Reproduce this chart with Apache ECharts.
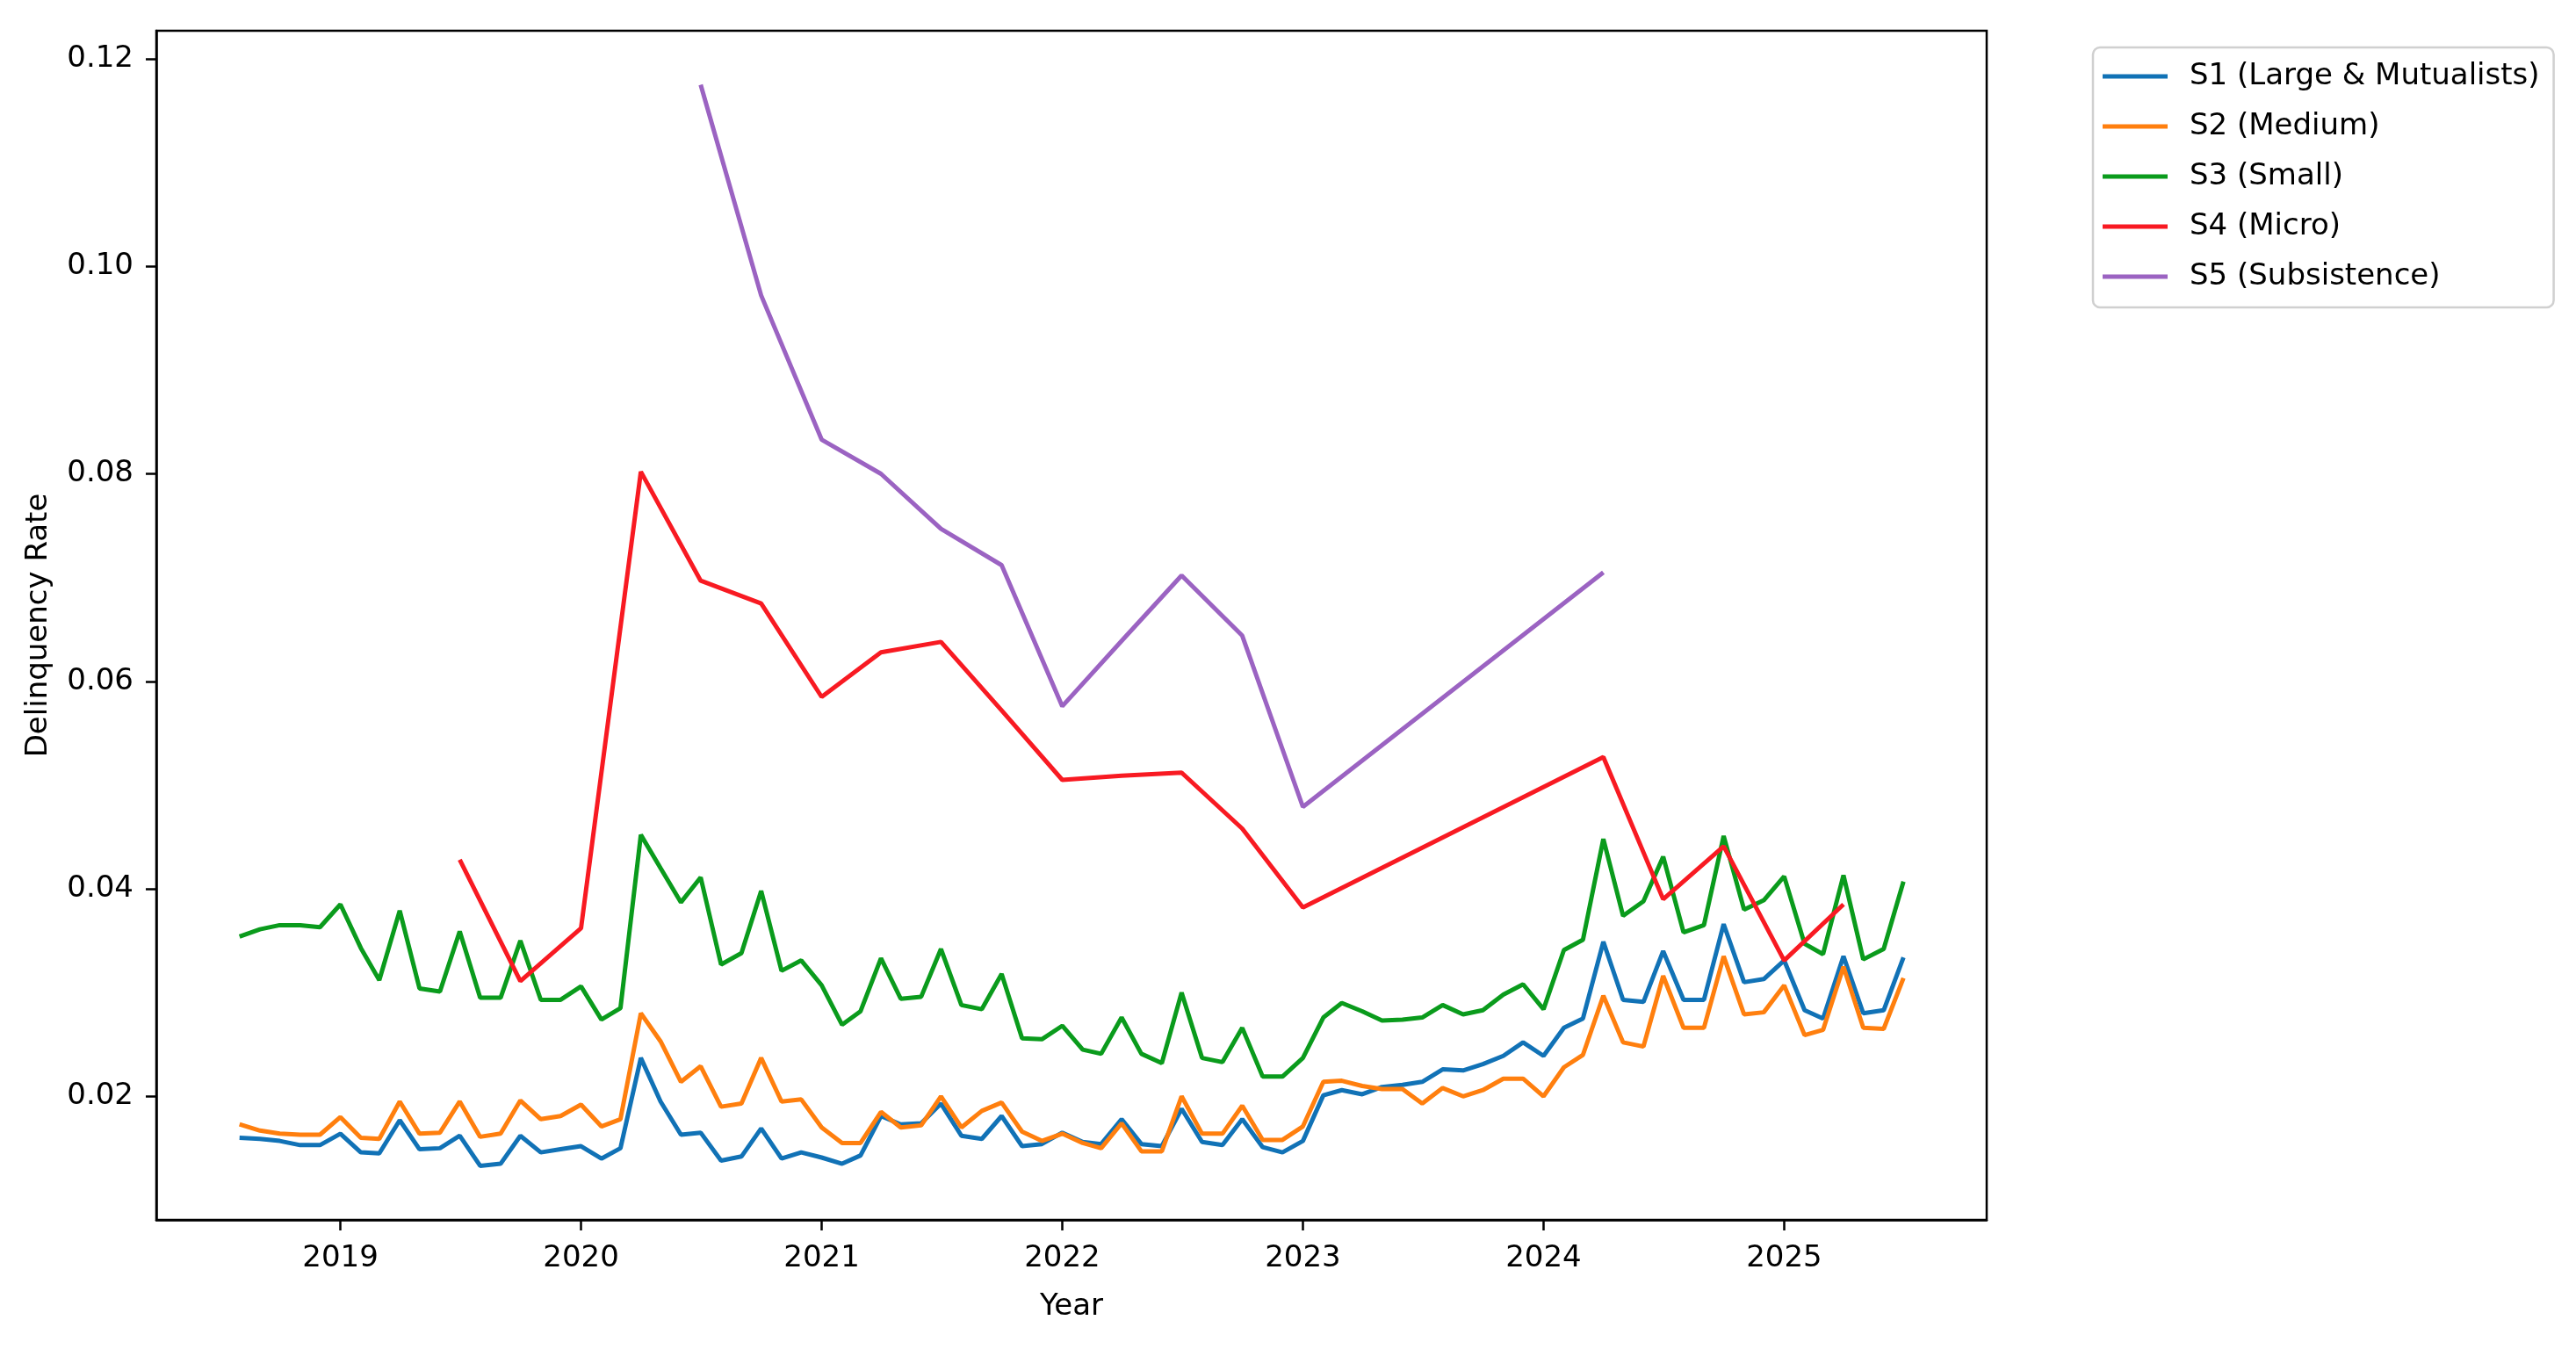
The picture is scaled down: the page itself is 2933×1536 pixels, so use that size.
<!DOCTYPE html>
<html>
<head>
<meta charset="utf-8">
<script src="https://cdn.jsdelivr.net/npm/echarts@6/dist/echarts.min.js"></script>
<style>
  html, body { margin: 0; padding: 0; background: #fff; }
  #chart { width: 2933px; height: 1536px; }
</style>
</head>
<body>
<div id="chart"></div>
<script>
// monthly observations, S1..S3
var months = [
  '2018-08','2018-09','2018-10','2018-11','2018-12',
  '2019-01','2019-02','2019-03','2019-04','2019-05','2019-06','2019-07','2019-08','2019-09','2019-10','2019-11','2019-12',
  '2020-01','2020-02','2020-03','2020-04','2020-05','2020-06','2020-07','2020-08','2020-09','2020-10','2020-11','2020-12',
  '2021-01','2021-02','2021-03','2021-04','2021-05','2021-06','2021-07','2021-08','2021-09','2021-10','2021-11','2021-12',
  '2022-01','2022-02','2022-03','2022-04','2022-05','2022-06','2022-07','2022-08','2022-09','2022-10','2022-11','2022-12',
  '2023-01','2023-02','2023-03','2023-04','2023-05','2023-06','2023-07','2023-08','2023-09','2023-10','2023-11','2023-12',
  '2024-01','2024-02','2024-03','2024-04','2024-05','2024-06','2024-07','2024-08','2024-09','2024-10','2024-11','2024-12',
  '2025-01','2025-02','2025-03','2025-04','2025-05','2025-06','2025-07'
];

var s1 = [
  0.0160, 0.0159, 0.0157, 0.0153, 0.0153,
  0.0164, 0.0146, 0.0145, 0.0177, 0.0149, 0.0150, 0.0162, 0.0133, 0.0135, 0.0162, 0.0146, 0.0149,
  0.0152, 0.0140, 0.0150, 0.0237, 0.0195, 0.0163, 0.0165, 0.0138, 0.0142, 0.0169, 0.0140, 0.0146,
  0.0141, 0.0135, 0.0143, 0.0181, 0.0173, 0.0174, 0.0193, 0.0162, 0.0159, 0.0181, 0.0152, 0.0154,
  0.0165, 0.0156, 0.0154, 0.0178, 0.0154, 0.0152, 0.0188, 0.0156, 0.0153, 0.0178, 0.0151, 0.0146,
  0.0157, 0.0201, 0.0206, 0.0202, 0.0209, 0.0211, 0.0214, 0.0226, 0.0225, 0.0231, 0.0239, 0.0252,
  0.0239, 0.0266, 0.0275, 0.0349, 0.0293, 0.0291, 0.0340, 0.0293, 0.0293, 0.0366, 0.0310, 0.0313,
  0.0331, 0.0283, 0.0275, 0.0335, 0.0280, 0.0283, 0.0334
];

var s2 = [
  0.0173, 0.0167, 0.0164, 0.0163, 0.0163,
  0.0180, 0.0160, 0.0159, 0.0195, 0.0164, 0.0165, 0.0195, 0.0161, 0.0164, 0.0196, 0.0178, 0.0181,
  0.0192, 0.0171, 0.0178, 0.0280, 0.0253, 0.0214, 0.0229, 0.0190, 0.0193, 0.0237, 0.0195, 0.0197,
  0.0170, 0.0155, 0.0155, 0.0185, 0.0170, 0.0172, 0.0200, 0.0170, 0.0186, 0.0194, 0.0166, 0.0157,
  0.0164, 0.0155, 0.0150, 0.0174, 0.0147, 0.0147, 0.0200, 0.0164, 0.0164, 0.0191, 0.0158, 0.0158,
  0.0171, 0.0214, 0.0215, 0.0210, 0.0207, 0.0207, 0.0193, 0.0208, 0.0200, 0.0206, 0.0217, 0.0217,
  0.0200, 0.0228, 0.0240, 0.0297, 0.0252, 0.0248, 0.0316, 0.0266, 0.0266, 0.0335, 0.0279, 0.0281,
  0.0307, 0.0259, 0.0264, 0.0325, 0.0266, 0.0265, 0.0314
];

var s3 = [
  0.0354, 0.0361, 0.0365, 0.0365, 0.0363,
  0.0385, 0.0343, 0.0312, 0.0379, 0.0304, 0.0301, 0.0359, 0.0295, 0.0295, 0.0350, 0.0293, 0.0293,
  0.0306, 0.0274, 0.0285, 0.0452, 0.0420, 0.0387, 0.0411, 0.0327, 0.0338, 0.0398, 0.0321, 0.0331,
  0.0307, 0.0269, 0.0282, 0.0333, 0.0294, 0.0296, 0.0342, 0.0288, 0.0284, 0.0318, 0.0256, 0.0255,
  0.0268, 0.0245, 0.0241, 0.0276, 0.0241, 0.0232, 0.0300, 0.0237, 0.0233, 0.0266, 0.0219, 0.0219,
  0.0237, 0.0276, 0.0290, 0.0282, 0.0273, 0.0274, 0.0276, 0.0288, 0.0279, 0.0283, 0.0298, 0.0308,
  0.0284, 0.0341, 0.0351, 0.0448, 0.0374, 0.0388, 0.0431, 0.0358, 0.0365, 0.0451, 0.0380, 0.0389,
  0.0412, 0.0347, 0.0337, 0.0413, 0.0332, 0.0342, 0.0407
];

// S4 / S5 only have some quarters
var s4Months = ['2019-07','2019-10','2020-01','2020-04','2020-07','2020-10','2021-01','2021-04','2021-07','2021-10',
                '2022-01','2022-04','2022-07','2022-10','2023-01','2024-04','2024-07','2024-10','2025-01','2025-04'];
var s4 = [0.0428, 0.0311, 0.0362, 0.0802, 0.0697, 0.0675, 0.0585, 0.0628, 0.0638, 0.0572,
          0.0505, 0.0509, 0.0512, 0.0458, 0.0382, 0.0527, 0.0390, 0.0441, 0.0331, 0.0385];

var s5Months = ['2020-07','2020-10','2021-01','2021-04','2021-07','2021-10','2022-01','2022-04','2022-07','2022-10','2023-01','2024-04'];
var s5 = [0.1175, 0.0972, 0.0833, 0.0800, 0.0747, 0.0712, 0.0576, 0.0639, 0.0702, 0.0644, 0.0479, 0.0705];

var names = ['S1 (Large & Mutualists)', 'S2 (Medium)', 'S3 (Small)', 'S4 (Micro)', 'S5 (Subsistence)'];
var colors = ['#1172b6', '#ff7f0e', '#0a9b1c', '#f81a22', '#9b63c2'];

var yearTicks = [2019, 2020, 2021, 2022, 2023, 2024, 2025];
var rateTicks = [0.02, 0.04, 0.06, 0.08, 0.10, 0.12];

// 'YYYY-MM' -> fractional year (day based, like matplotlib dates)
function toYear(m) {
  var y = +m.slice(0, 4), mo = +m.slice(5, 7) - 1;
  var start = Date.UTC(y, 0, 1), end = Date.UTC(y + 1, 0, 1);
  return y + (Date.UTC(y, mo, 1) - start) / (end - start);
}
function pairs(ms, vals) {
  return ms.map(function (m, i) { return [toYear(m), vals[i]]; });
}

var allData = [pairs(months, s1), pairs(months, s2), pairs(months, s3), pairs(s4Months, s4), pairs(s5Months, s5)];

// matplotlib style 5% margins
var xs = [], ys = [];
allData.forEach(function (d) { d.forEach(function (p) { xs.push(p[0]); ys.push(p[1]); }); });
var xMin = Math.min.apply(null, xs), xMax = Math.max.apply(null, xs);
var yMin = Math.min.apply(null, ys), yMax = Math.max.apply(null, ys);
var xPad = (xMax - xMin) * 0.05, yPad = (yMax - yMin) * 0.05;

var font = 'DejaVu Sans';
var fs = 34;

var chart = echarts.init(document.getElementById('chart'));
chart.setOption({
  animation: false,
  backgroundColor: '#ffffff',
  textStyle: { fontFamily: font, color: '#000' },
  grid: {
    left: 178, top: 35, right: 671, bottom: 147,
    show: true, borderColor: '#000', borderWidth: 2.5, backgroundColor: 'transparent'
  },
  legend: {
    orient: 'vertical',
    left: 2383, top: 54,
    padding: [16, 16, 18, 11],
    itemWidth: 74, itemHeight: 5, itemGap: 23,
    borderColor: '#d0d0d0', borderWidth: 2.5, borderRadius: 8,
    backgroundColor: '#ffffff',
    textStyle: { fontSize: fs, fontFamily: font, color: '#000', padding: [0, 0, 0, 20] },
    data: names.map(function (n) { return { name: n, icon: 'rect' }; })
  },
  xAxis: {
    type: 'value',
    min: xMin - xPad, max: xMax + xPad,
    name: 'Year', nameLocation: 'middle', nameGap: 82,
    nameTextStyle: { fontSize: fs, fontFamily: font, color: '#000' },
    axisLine: { show: true, onZero: false, lineStyle: { color: '#000', width: 2.5 } },
    axisTick: { show: true, length: 12, lineStyle: { color: '#000', width: 2.5 }, customValues: yearTicks },
    axisLabel: {
      fontSize: fs, color: '#000', margin: 27, customValues: yearTicks,
      formatter: function (v) { return String(Math.round(v)); }
    },
    splitLine: { show: false }
  },
  yAxis: {
    type: 'value',
    min: yMin - yPad, max: yMax + yPad,
    name: 'Delinquency Rate', nameLocation: 'middle', nameGap: 117, nameRotate: 90,
    nameTextStyle: { fontSize: fs, fontFamily: font, color: '#000' },
    axisLine: { show: true, onZero: false, lineStyle: { color: '#000', width: 2.5 } },
    axisTick: { show: true, length: 12, lineStyle: { color: '#000', width: 2.5 }, customValues: rateTicks },
    axisLabel: {
      fontSize: fs, color: '#000', margin: 26, customValues: rateTicks,
      formatter: function (v) { return v.toFixed(2); }
    },
    splitLine: { show: false }
  },
  series: allData.map(function (d, i) {
    return {
      name: names[i],
      type: 'line',
      data: d,
      symbol: 'none',
      color: colors[i],
      lineStyle: { color: colors[i], width: 5 },
      itemStyle: { color: colors[i] }
    };
  })
});
</script>
</body>
</html>
